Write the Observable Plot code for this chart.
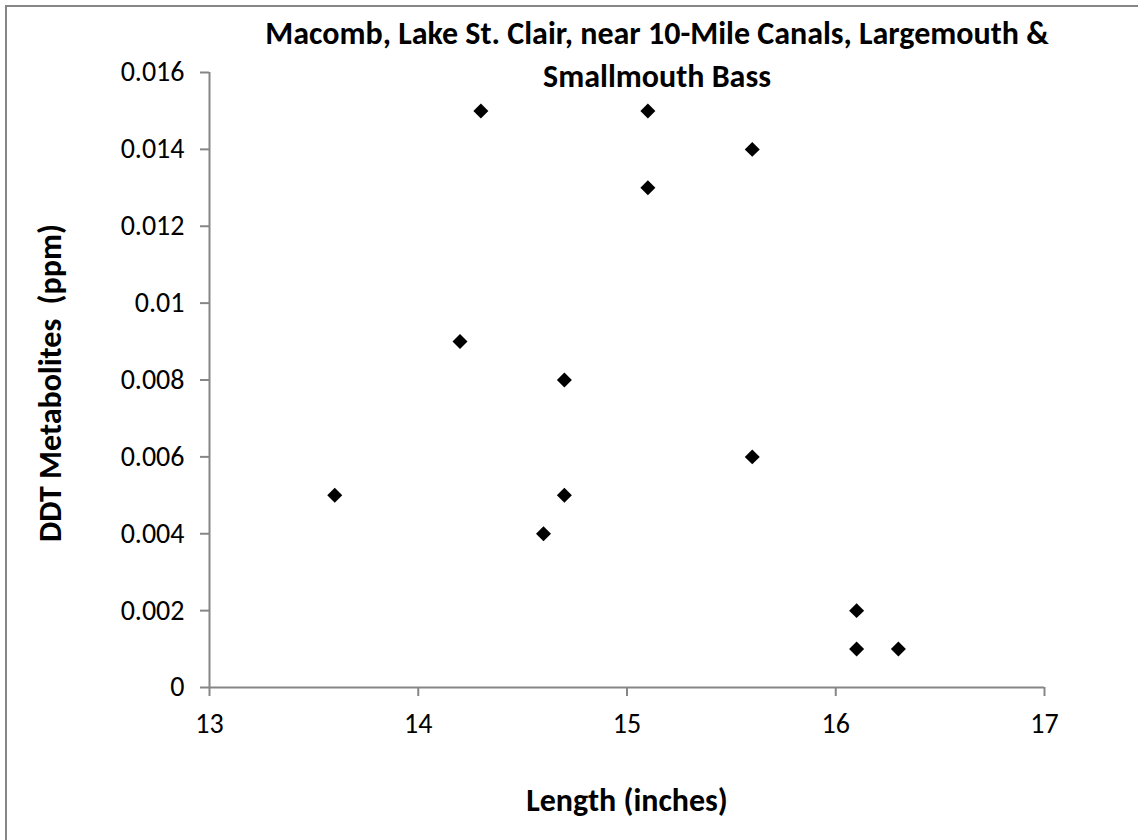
<!DOCTYPE html>
<html>
<head>
<meta charset="utf-8">
<script src="https://cdn.jsdelivr.net/npm/d3@7"></script>
<script src="https://cdn.jsdelivr.net/npm/@observablehq/plot@0.6"></script>
<style>
  body { margin: 0; background: #fff; }
  #wrap { position: relative; width: 1138px; height: 840px; overflow: hidden; }
  .bl { position: absolute; left: 5px; top: 5px; width: 2px; height: 840px; background: #868686; }
  .bt { position: absolute; left: 5px; top: 5px; height: 2px; width: 1140px; background: #868686; }
</style>
</head>
<body>
<div id="wrap"><div class="bl"></div><div class="bt"></div></div>
<script>
const titleLines = ["Macomb, Lake St. Clair, near 10-Mile Canals, Largemouth &", "Smallmouth Bass"];
const xLabel = "Length (inches)";
const yLabel = "DDT Metabolites  (ppm)";
const lengths = [13.6, 14.2, 14.3, 14.6, 14.7, 14.7, 15.1, 15.1, 15.6, 15.6, 16.1, 16.1, 16.3];
const ddt = [0.005, 0.009, 0.015, 0.004, 0.008, 0.005, 0.015, 0.013, 0.014, 0.006, 0.002, 0.001, 0.001];
const xTicks = [13, 14, 15, 16, 17];
const yTicks = [0, 0.002, 0.004, 0.006, 0.008, 0.01, 0.012, 0.014, 0.016];

const data = lengths.map((x, i) => ({x, y: ddt[i]}));
const font = "Carlito, Lato, 'Open Sans', sans-serif";
const axisColor = "#868686";

const chart = Plot.plot({
  width: 1138,
  height: 840,
  marginLeft: 209,
  marginRight: 94,
  marginTop: 72,
  marginBottom: 153,
  style: {fontFamily: font, fontSize: "28px", background: "transparent", color: "#000"},
  x: {domain: [13, 17]},
  y: {domain: [0, 0.016]},
  marks: [
    Plot.axisX({ticks: xTicks, tickSize: 9, tickPadding: 17, stroke: axisColor, strokeWidth: 2, label: null, tickFormat: d => String(d), fontSize: 28, fill: "#000"}),
    Plot.axisY({ticks: yTicks, tickSize: 9, tickPadding: 16, stroke: axisColor, strokeWidth: 2, label: null, tickFormat: d => String(+d.toFixed(3)), fontSize: 28, fill: "#000"}),
    Plot.ruleX([13], {stroke: axisColor, strokeWidth: 2}),
    Plot.ruleY([0], {stroke: axisColor, strokeWidth: 2}),
    Plot.dot(data, {x: "x", y: "y", symbol: "diamond2", r: 6.75, fill: "#000", stroke: null}),
    Plot.text([xLabel], {frameAnchor: "bottom", dy: 113, text: d => d, fontWeight: "bold", fontSize: 32, lineAnchor: "middle", textAnchor: "middle"}),
    Plot.text([yLabel], {frameAnchor: "left", dx: -159, dy: 3, rotate: -90, text: d => d, fontWeight: "bold", fontSize: 32, lineAnchor: "middle", textAnchor: "middle"}),
    Plot.text([titleLines[0]], {frameAnchor: "top", dx: 30, dy: -38.5, text: d => d, fontWeight: "bold", fontSize: 32, lineAnchor: "middle", textAnchor: "middle"}),
    Plot.text([titleLines[1]], {frameAnchor: "top", dx: 30, dy: 4, text: d => d, fontWeight: "bold", fontSize: 32, lineAnchor: "middle", textAnchor: "middle"})
  ]
});
chart.style.position = "absolute";
chart.style.left = "0px";
chart.style.top = "0px";
document.getElementById("wrap").appendChild(chart);
</script>
</body>
</html>
